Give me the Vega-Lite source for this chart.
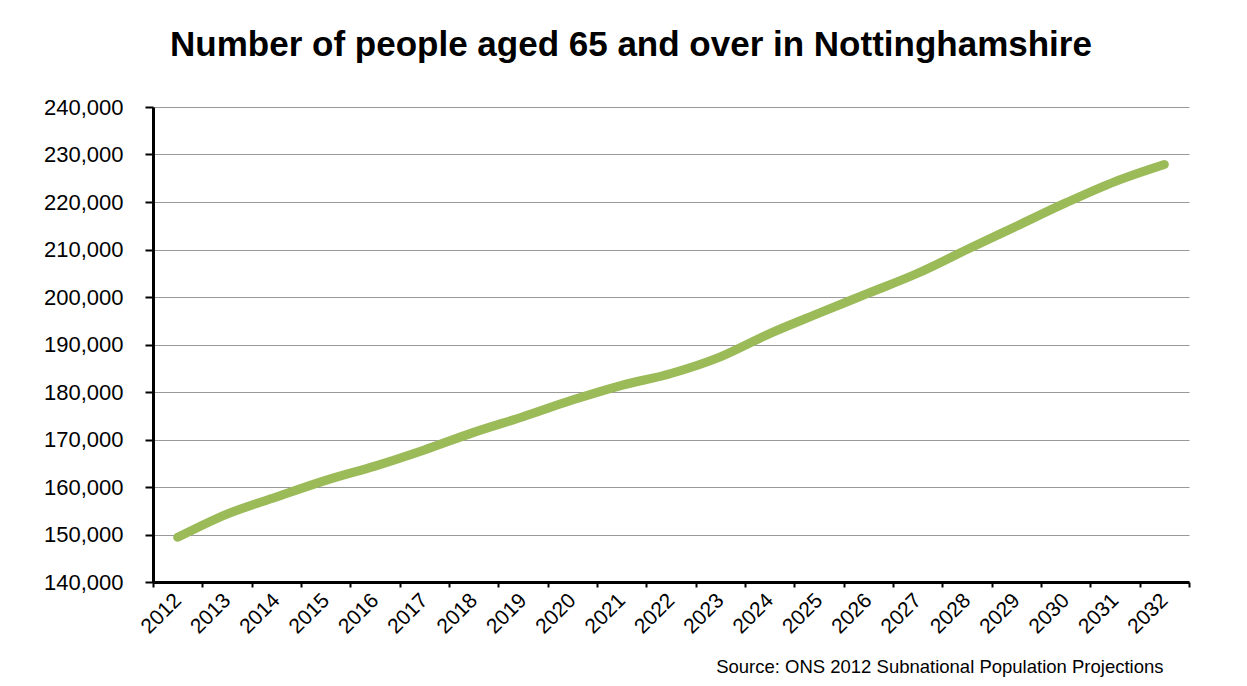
{
  "$schema": "https://vega.github.io/schema/vega-lite/v6.json",
  "autosize": "none",
  "width": 1036,
  "height": 475,
  "padding": {"left": 153, "top": 107, "right": 58, "bottom": 104},
  "background": "white",
  "title": {
    "text": "Number of people aged 65 and over in Nottinghamshire",
    "font": "Liberation Sans",
    "fontSize": 35,
    "fontWeight": "bold",
    "color": "black",
    "anchor": "middle",
    "dx": -40,
    "offset": 33
  },
  "data": {
    "values": [
      {"year": "2012", "people": 149400},
      {"year": "2013", "people": 154300},
      {"year": "2014", "people": 157900},
      {"year": "2015", "people": 161400},
      {"year": "2016", "people": 164400},
      {"year": "2017", "people": 167800},
      {"year": "2018", "people": 171500},
      {"year": "2019", "people": 174800},
      {"year": "2020", "people": 178300},
      {"year": "2021", "people": 181400},
      {"year": "2022", "people": 183900},
      {"year": "2023", "people": 187400},
      {"year": "2024", "people": 192300},
      {"year": "2025", "people": 196600},
      {"year": "2026", "people": 200800},
      {"year": "2027", "people": 205000},
      {"year": "2028", "people": 210000},
      {"year": "2029", "people": 214900},
      {"year": "2030", "people": 219800},
      {"year": "2031", "people": 224300},
      {"year": "2032", "people": 227900}
    ]
  },
  "mark": {
    "type": "line",
    "color": "#9BBB59",
    "strokeWidth": 9,
    "strokeCap": "round",
    "strokeJoin": "round",
    "interpolate": "monotone"
  },
  "encoding": {
    "x": {
      "field": "year",
      "type": "ordinal",
      "bandPosition": 0.5,
      "scale": {"type": "band", "paddingInner": 0, "paddingOuter": 0},
      "axis": {
        "title": "Source: ONS  2012 Subnational Population Projections",
        "titleFont": "Liberation Sans",
        "titleFontSize": 18.5,
        "titleFontWeight": "normal",
        "titleColor": "black",
        "titleAnchor": "end",
        "titleAlign": "right",
        "titleBaseline": "alphabetic",
        "titleX": 1010,
        "titleY": 90,
        "labelAngle": -45,
        "labelAlign": "right",
        "labelBaseline": "middle",
        "labelFont": "Liberation Sans",
        "labelFontSize": 21,
        "labelColor": "black",
        "labelPadding": 10,
        "tickBand": "extent",
        "tickSize": 5,
        "tickWidth": 2,
        "tickColor": "black",
        "domainColor": "black",
        "domainWidth": 3,
        "grid": false
      }
    },
    "y": {
      "field": "people",
      "type": "quantitative",
      "scale": {"domain": [140000, 240000], "nice": false, "zero": false},
      "axis": {
        "title": null,
        "values": [140000, 150000, 160000, 170000, 180000, 190000, 200000, 210000, 220000, 230000, 240000],
        "format": ",.0f",
        "labelFont": "Liberation Sans",
        "labelFontSize": 22,
        "labelColor": "black",
        "labelPadding": 22,
        "tickSize": 8,
        "tickWidth": 2,
        "tickColor": "black",
        "domainColor": "black",
        "domainWidth": 3,
        "grid": true,
        "gridColor": "#999999",
        "gridWidth": 1.2
      }
    }
  },
  "config": {
    "view": {"stroke": null}
  }
}
